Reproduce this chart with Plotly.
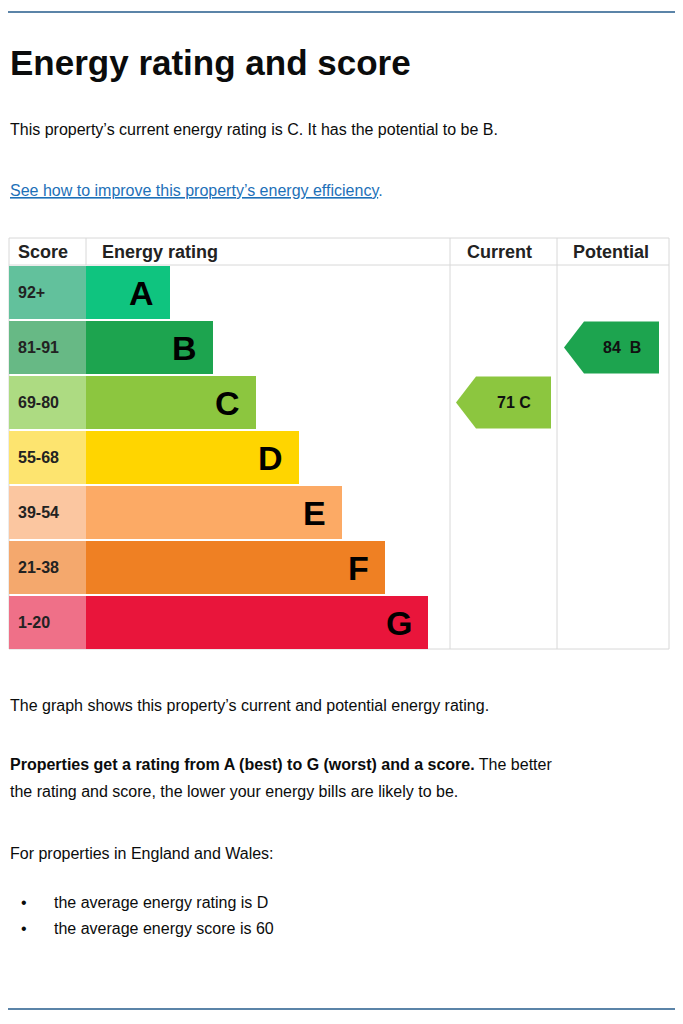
import plotly.graph_objects as go

# data
BANDS = ['A', 'B', 'C', 'D', 'E', 'F', 'G']
SCORES = ['92+', '81-91', '69-80', '55-68', '39-54', '21-38', '1-20']
BAR_COLORS = ['#0fc47f', '#1da44f', '#8cc63f', '#ffd500', '#fcaa65', '#ef8023', '#e9153b']
CELL_COLORS = ['#62c19c', '#67b985', '#addb82', '#fde46f', '#fbc6a0', '#f4a86d', '#ef7088']
BAR_END = [170, 213, 256, 299, 342, 385, 428]
CURRENT_SCORE, CURRENT_BAND = 71, 'C'
POTENTIAL_SCORE, POTENTIAL_BAND = 84, 'B'

W, H = 683, 1024
OFF = 8  # page body margin
FONT = 'Liberation Sans'
TOP, ROW = 265, 55
centers = [TOP + ROW * i + ROW / 2 for i in range(len(BANDS))]

fig = go.Figure()
# score cells
fig.add_trace(go.Bar(y=centers, x=[77] * 7, base=9, orientation='h', width=53,
                     marker=dict(color=CELL_COLORS, line_width=0), hoverinfo='skip'))
# rating bars
fig.add_trace(go.Bar(y=centers, x=[e - 86 for e in BAR_END], base=86, orientation='h', width=53,
                     marker=dict(color=BAR_COLORS, line_width=0), hoverinfo='skip'))


def arrow(x0, band, label):
    i = BANDS.index(band)
    yc, h = centers[i], 26
    xs = [x0, x0 + 20, x0 + 95, x0 + 95, x0 + 20, x0]
    ys = [yc, yc - h, yc - h, yc + h, yc + h, yc]
    fig.add_trace(go.Scatter(x=xs, y=ys, fill='toself', fillcolor=BAR_COLORS[i], mode='lines',
                             line=dict(width=0), hoverinfo='skip'))
    fig.add_annotation(x=x0 + 58, y=yc, text='<b>%s</b>' % label, showarrow=False,
                       font=dict(family=FONT, size=16, color='#111'))


arrow(456, CURRENT_BAND, '%d %s' % (CURRENT_SCORE, CURRENT_BAND))
arrow(564, POTENTIAL_BAND, '%d  %s' % (POTENTIAL_SCORE, POTENTIAL_BAND))

for c, s, b, e in zip(centers, SCORES, BANDS, BAR_END):
    fig.add_annotation(x=16, y=c, text='<b>%s</b>' % s, showarrow=False, xanchor='left',
                       font=dict(family=FONT, size=16, color='#222'))
    fig.add_annotation(x=e - 14, y=c, text='<b>%s</b>' % b, showarrow=False, xanchor='right',
                       font=dict(family=FONT, size=34, color='#000'))

# table lines
line = dict(color='#d8d8d8', width=1)
shapes = [
    dict(type='rect', x0=9, x1=669, y0=238, y1=649, line=line),
    dict(type='line', x0=9, x1=669, y0=265, y1=265, line=line),
    dict(type='line', x0=86, x1=86, y0=238, y1=265, line=line),
    dict(type='line', x0=450, x1=450, y0=238, y1=649, line=line),
    dict(type='line', x0=557, x1=557, y0=238, y1=649, line=line),
    dict(type='line', x0=0, x1=683, y0=12, y1=12, line=dict(color='#5b84a8', width=2)),
    dict(type='line', x0=0, x1=683, y0=1009, y1=1009, line=dict(color='#5b84a8', width=2)),
]
for s in shapes:
    s.update(xref='x', yref='y', layer='above' if s['type'] == 'line' and s['y0'] != s['y1'] else 'below')
fig.update_layout(shapes=shapes)

hdr = [(16, 'Score'), (100, 'Energy rating'), (465, 'Current'), (571, 'Potential')]
for x, t in hdr:
    fig.add_annotation(x=x, y=252, text='<b>%s</b>' % t, showarrow=False, xanchor='left',
                       font=dict(family=FONT, size=18, color='#222'))

texts = [
    (62, '<b>Energy rating and score</b>', 35, '#0b0c0c'),
    (129, "This property’s current energy rating is C. It has the potential to be B.", 16, '#0b0c0c'),
    (190, "<u>See how to improve this property’s energy efficiency</u>.", 16, '#1d70b8'),
    (705, "The graph shows this property’s current and potential energy rating.", 16, '#0b0c0c'),
    (764, "<b>Properties get a rating from A (best) to G (worst) and a score.</b> The better", 16, '#0b0c0c'),
    (791, "the rating and score, the lower your energy bills are likely to be.", 16, '#0b0c0c'),
    (853, "For properties in England and Wales:", 16, '#0b0c0c'),
]
for y, t, sz, col in texts:
    fig.add_annotation(x=8, y=y, text=t, showarrow=False, xanchor='left',
                       font=dict(family=FONT, size=sz, color=col))
for y, t in [(902, 'the average energy rating is D'), (928, 'the average energy score is 60')]:
    fig.add_annotation(x=24, y=y, text='•', showarrow=False, font=dict(family=FONT, size=16, color='#0b0c0c'))
    fig.add_annotation(x=52, y=y, text=t, showarrow=False, xanchor='left',
                       font=dict(family=FONT, size=16, color='#0b0c0c'))

fig.update_layout(
    width=W - 2 * OFF, height=H - 2 * OFF, margin=dict(l=0, r=0, t=0, b=0), showlegend=False,
    plot_bgcolor='white', paper_bgcolor='white', barmode='overlay',
    xaxis=dict(range=[OFF, W - OFF], visible=False, fixedrange=True),
    yaxis=dict(range=[H - OFF, OFF], visible=False, fixedrange=True),
)
fig.write_html("out.html", config={'displayModeBar': False})
